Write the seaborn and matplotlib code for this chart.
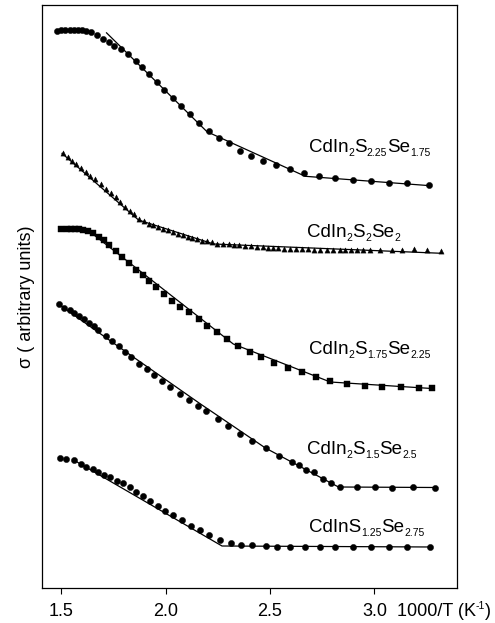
import matplotlib
matplotlib.use("Agg")
import matplotlib.pyplot as plt
import matplotlib.transforms as mtransforms
import seaborn as sns
import numpy as np
import pandas as pd

# ---------------- data (x = 1000/T in K^-1, y = sigma, arbitrary units) ----------------
s1_x = [1.479, 1.499, 1.519, 1.540, 1.559, 1.578, 1.599, 1.620, 1.644, 1.671, 1.698, 1.727,
        1.754, 1.788, 1.818, 1.856, 1.885, 1.922, 1.959, 1.994, 2.033, 2.075, 2.115, 2.160,
        2.206, 2.257, 2.304, 2.354, 2.409, 2.466, 2.530, 2.597, 2.663, 2.736, 2.813, 2.898,
        2.984, 3.070, 3.157, 3.263]
s1_y = [557, 557.7, 558, 558.3, 558.3, 558, 557.7, 557.3, 555.7, 553, 549, 545.7, 542, 539,
        534.3, 527, 521.3, 514.3, 506, 497.7, 489.7, 482, 473.7, 465.3, 456.7, 450.3, 444.7,
        437.3, 432.3, 427, 422.7, 419.3, 415, 412, 410.3, 407.7, 407, 405, 404.7, 403]
fit1_x = [1.716, 2.198, 2.669, 3.268]
fit1_y = [555.3, 456.3, 411.7, 402.3]

s2_x = [1.508, 1.530, 1.551, 1.572, 1.594, 1.620, 1.639, 1.663, 1.690, 1.714, 1.738, 1.760,
        1.783, 1.807, 1.827, 1.846, 1.870, 1.894, 1.918, 1.939, 1.961, 1.987, 2.009, 2.033,
        2.057, 2.081, 2.105, 2.126, 2.150, 2.174, 2.198, 2.222, 2.246, 2.275, 2.302, 2.326,
        2.353, 2.382, 2.410, 2.438, 2.467, 2.490, 2.516, 2.540, 2.569, 2.597, 2.626, 2.655,
        2.684, 2.712, 2.741, 2.775, 2.803, 2.837, 2.861, 2.890, 2.918, 2.947, 2.981, 3.029,
        3.085, 3.133, 3.188, 3.252, 3.320]
s2_y = [434.7, 430.7, 427.3, 424, 420, 416, 412.3, 408.7, 403.7, 399.3, 394.7, 390.7, 385.7,
        381.3, 377.3, 374, 369.3, 366.7, 364, 362.7, 361, 359, 358, 356.3, 353.7, 352.7, 351.3,
        350.3, 349, 347.3, 347, 346, 344.3, 344, 343.7, 343.3, 343, 342, 341.7, 341.3, 340.7,
        340, 340, 339.7, 339.5, 339.3, 339, 339, 338.7, 338.5, 338.3, 338.2, 338, 338, 338,
        338, 337.8, 337.8, 337.7, 338, 338.3, 338.3, 338.7, 338.3, 337]
fit2_x = [1.503, 1.870, 2.230, 3.323]
fit2_y = [434.7, 368, 344, 334.7]

s3_x = [1.499, 1.527, 1.548, 1.567, 1.583, 1.604, 1.628, 1.650, 1.682, 1.703, 1.730, 1.764,
        1.791, 1.823, 1.859, 1.892, 1.922, 1.954, 1.994, 2.032, 2.070, 2.112, 2.161, 2.200,
        2.246, 2.294, 2.348, 2.402, 2.457, 2.521, 2.588, 2.653, 2.719, 2.789, 2.869, 2.957,
        3.037, 3.128, 3.212, 3.275]
s3_y = [359.3, 359.3, 359.3, 359.3, 359, 358, 356.7, 354.7, 351.3, 348, 343.3, 337.3, 331.3,
        324.7, 318.3, 312.7, 306.7, 301.3, 294, 287.3, 281.3, 275.7, 269, 262.3, 255.7, 249.3,
        241.7, 236.3, 231.3, 224.7, 220.3, 216, 210.7, 207, 203.7, 202.3, 201.3, 200.7, 200.3, 200]
fit3_x = [1.629, 2.324, 2.789, 3.275]
fit3_y = [357.5, 244, 206, 199.5]

s4_x = [1.487, 1.514, 1.540, 1.562, 1.586, 1.609, 1.633, 1.655, 1.677, 1.712, 1.741, 1.777,
        1.807, 1.834, 1.872, 1.911, 1.946, 1.984, 2.022, 2.067, 2.112, 2.153, 2.195, 2.249,
        2.297, 2.358, 2.415, 2.479, 2.541, 2.606, 2.640, 2.673, 2.712, 2.752, 2.792, 2.834,
        2.917, 3.001, 3.085, 3.185, 3.289]
s4_y = [283.7, 280.3, 277.7, 275, 272.3, 268.7, 265.3, 261.7, 258.3, 252.3, 247, 241.7, 235.7,
        231, 224.3, 218.7, 213, 207.3, 200.7, 194.3, 188.3, 182.3, 176.7, 169, 162, 154.3,
        146.7, 139.7, 132, 126.3, 123, 118, 115.7, 109.3, 104.7, 100.7, 101.3, 100.7, 100,
        100.7, 100.3]
fit4_x = [1.486, 1.831, 2.167, 2.478, 2.828, 3.292]
fit4_y = [284, 233, 184, 140, 101, 100.5]

s5_x = [1.495, 1.524, 1.562, 1.594, 1.616, 1.652, 1.676, 1.706, 1.735, 1.767, 1.794, 1.827,
        1.859, 1.892, 1.923, 1.961, 1.998, 2.035, 2.078, 2.123, 2.166, 2.208, 2.262, 2.313,
        2.361, 2.415, 2.481, 2.534, 2.597, 2.669, 2.741, 2.813, 2.898, 2.984, 3.070, 3.157, 3.268]
s5_y = [130.3, 129.3, 128, 124, 121.3, 118.7, 116, 113.3, 111.3, 107.3, 105.3, 101, 96.3, 92,
        86.7, 82, 76.7, 72.7, 68, 62, 58, 53, 48, 45.3, 43.3, 43.3, 42, 41.3, 40.7, 40.7, 40.7,
        40.7, 41.3, 41.3, 41.3, 41.3, 41]
fit5_x = [1.559, 2.270, 3.277]
fit5_y = [128, 42, 41]

# formula labels as (text, level) pieces: 0 = normal, -1 = subscript, 1 = superscript
labels = [
    [("CdIn", 0), ("2", -1), ("S", 0), ("2.25", -1), ("Se", 0), ("1.75", -1)],
    [("CdIn", 0), ("2", -1), ("S", 0), ("2", -1), ("Se", 0), ("2", -1)],
    [("CdIn", 0), ("2", -1), ("S", 0), ("1.75", -1), ("Se", 0), ("2.25", -1)],
    [("CdIn", 0), ("2", -1), ("S", 0), ("1.5", -1), ("Se", 0), ("2.5", -1)],
    [("CdInS", 0), ("1.25", -1), ("Se", 0), ("2.75", -1)],
]
label_x = [2.685, 2.677, 2.685, 2.677, 2.685]
label_y = [435.7, 350.7, 234, 133.7, 55.7]

xticks = [1.5, 2.0, 2.5, 3.0]
xtick_labels = ["1.5", "2.0", "2.5", "3.0"]
xunit_label = [("1000/T (K", 0), ("-1", 1), (")", 0)]

# ---------------- style ----------------
sns.set_theme(style="white")
plt.rcParams['font.family'] = ['Liberation Sans', 'DejaVu Sans']

DPI = 100
fig = plt.figure(figsize=(4.95, 6.23), dpi=DPI)
ax = fig.add_axes([42 / 495, (623 - 588) / 623, 415 / 495, 583 / 623])

series = [(s1_x, s1_y, 'o', 20), (s2_x, s2_y, '^', 14), (s3_x, s3_y, 's', 14),
          (s4_x, s4_y, 'o', 20), (s5_x, s5_y, 'o', 20)]
fits = [(fit1_x, fit1_y), (fit2_x, fit2_y), (fit3_x, fit3_y), (fit4_x, fit4_y), (fit5_x, fit5_y)]

for fx, fy in fits:
    sns.lineplot(x=fx, y=fy, ax=ax, sort=False, color='black', lw=0.9, estimator=None)
for sx, sy, m, sz in series:
    sns.scatterplot(x=sx, y=sy, ax=ax, marker=m, s=sz, color='black', edgecolor='black',
                    linewidth=0.3, zorder=3)

ax.set_xlim(1.4075, 3.396)
ax.set_ylim(0, 583)
ax.set_xticks(xticks)
ax.set_xticklabels(xtick_labels, fontsize=13)
ax.set_yticks([])
ax.tick_params(axis='x', direction='out', length=4, width=0.8, color='black', pad=7,
               bottom=True, labelcolor='black')
for sp in ax.spines.values():
    sp.set_color('black')
    sp.set_linewidth(0.9)
ax.set_ylabel("σ ( arbitrary units)", fontsize=13, color='black', labelpad=5)
ax.set_xlabel("")

renderer = fig.canvas.get_renderer()


def draw_pieces(base_transform, x, y, pieces, main_size, small_size, sub_drop, sup_rise):
    dx = 0.0  # in points
    for txt, level in pieces:
        size = main_size if level == 0 else small_size
        dy = 0.0 if level == 0 else (-sub_drop if level < 0 else sup_rise)
        tr = mtransforms.offset_copy(base_transform, fig=fig, x=dx, y=dy, units='points')
        t = fig.text(x, y, txt, fontsize=size, ha='left', va='baseline', color='black',
                     transform=tr) if base_transform is fig.transFigure else \
            ax.text(x, y, txt, fontsize=size, ha='left', va='baseline', color='black',
                    transform=tr)
        w = t.get_window_extent(renderer).width * 72.0 / DPI
        dx += w


for pieces, lx, ly in zip(labels, label_x, label_y):
    draw_pieces(ax.transData, lx, ly, pieces, 13.5, 7.5, 2.6, 0)

draw_pieces(fig.transFigure, 397 / 495, 6.5 / 623, xunit_label, 13, 7.5, 0, 5.5)

fig.savefig("out.png", dpi=DPI)
